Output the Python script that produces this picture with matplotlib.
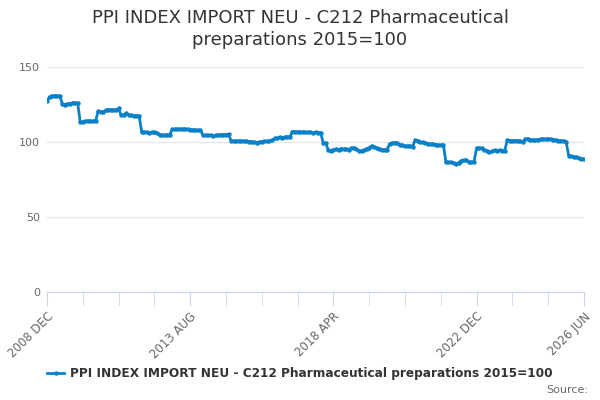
import numpy as np
import matplotlib.pyplot as plt
from matplotlib.lines import Line2D

## monthly index values, 2008 DEC .. 2026 JUN
values = [
    127.3, 130.2, 130.8, 130.9, 130.6, 130.9, 125.3, 125.0, 125.4, 125.6,
    126.2, 126.0, 125.9, 113.2, 113.5, 113.8, 114.2, 113.9, 114.0, 114.1,
    120.4, 120.3, 120.1, 121.2, 121.6, 121.5, 121.4, 121.3, 122.4, 117.8,
    118.2, 119.2, 118.0, 117.8, 117.6, 117.5, 117.6, 107.0, 106.6, 106.4,
    106.3, 106.4, 106.5, 106.2, 105.0, 104.6, 104.5, 104.6, 104.8, 108.4,
    108.5, 108.7, 108.6, 108.7, 108.6, 108.4, 108.3, 108.2, 108.0, 107.9,
    107.8, 104.6, 104.5, 104.4, 104.5, 104.3, 104.5, 104.6, 104.8, 104.9,
    105.0, 105.1, 100.8, 100.6, 100.5, 100.7, 100.6, 100.4, 100.5, 100.3,
    100.2, 99.8, 99.6, 99.8, 100.2, 100.4, 100.5, 100.6, 101.2, 102.4,
    102.6, 103.2, 102.9, 103.3, 103.5, 103.4, 107.0, 106.9, 106.8, 106.6,
    106.7, 106.5, 106.4, 106.5, 106.3, 106.4, 106.2, 106.3, 99.5, 99.2,
    94.6, 94.3, 94.9, 95.2, 95.0, 95.6, 95.2, 95.3, 95.0, 95.8,
    96.3, 95.4, 94.3, 94.0, 94.6, 95.6, 96.2, 97.4, 96.5, 95.8,
    95.5, 94.9, 94.8, 95.0, 98.8, 99.4, 99.6, 99.3, 98.2, 97.8,
    97.5, 97.4, 97.2, 97.0, 101.3, 100.6, 99.9, 99.7, 99.5, 98.9,
    98.7, 98.6, 98.3, 98.0, 97.9, 98.1, 86.7, 86.4, 86.6, 86.0,
    85.4, 86.2, 87.6, 88.0, 87.8, 86.8, 86.5, 87.0, 96.0, 96.1,
    95.8, 95.0, 94.2, 93.4, 93.9, 94.4, 94.3, 94.5, 94.2, 94.3,
    101.2, 101.0, 100.8, 101.0, 100.7, 100.6, 100.0, 101.8, 102.2, 101.4,
    101.5, 101.3, 101.6, 101.9, 102.0, 101.8, 102.1, 101.9, 101.6, 101.4,
    101.0, 100.9, 100.6, 100.2, 90.9, 90.5, 90.2, 90.0, 89.4, 88.9,
    88.6,
]
tick_labels = ["2008 DEC", "2013 AUG", "2018 APR", "2022 DEC", "2026 JUN"]
series_name = "PPI INDEX IMPORT NEU - C212 Pharmaceutical preparations 2015=100"
title = "PPI INDEX IMPORT NEU - C212 Pharmaceutical\npreparations 2015=100"

blue = "#0a80c8"
axis_col = "#ccd6eb"

fig = plt.figure(figsize=(6, 4), dpi=100)
ax = fig.add_axes([47/600, 108/400, 537/600, 225/400])

months = np.arange(len(values))
last = len(values) - 1
ax.plot(months, values, color=blue, lw=2, marker="o", ms=2.2, zorder=3)

ax.set_xlim(0, last)
ax.set_ylim(0, 150)
ax.set_yticks([0, 50, 100, 150])
ax.yaxis.grid(True, color="#e6e6e6", lw=1)
ax.set_axisbelow(True)
for s in ["top", "right", "left"]:
    ax.spines[s].set_visible(False)
ax.spines["bottom"].set_color(axis_col)
ax.tick_params(axis="y", length=0, labelsize=8, labelcolor="#666666", pad=5)

# minor ticks every 14 months, labels every 56 plus the last month
ax.set_xticks(np.arange(0, len(values), 14), minor=True)
ax.set_xticks([0, 56, 112, 168, last])
ax.set_xticklabels(tick_labels, rotation=45, ha="right", va="top",
                   rotation_mode="anchor")
ax.tick_params(axis="x", which="both", length=10, color=axis_col,
               labelsize=8.5, labelcolor="#666666", pad=3)

fig.text(0.5, 0.978, title, ha="center", va="top", fontsize=13,
         color="#333333", linespacing=1.3)

h = Line2D([], [], color=blue, lw=2, marker="o", ms=2.2)
fig.legend([h], [series_name], loc="center", bbox_to_anchor=(0.5, 0.066),
           frameon=False, handlelength=1.4, handletextpad=0.5,
           prop={"size": 8.7, "weight": "bold"}, labelcolor="#333333")
fig.text(0.981, 0.025, "Source:", ha="right", va="center", fontsize=8,
         color="#666666")

fig.savefig("out.png", dpi=100)
